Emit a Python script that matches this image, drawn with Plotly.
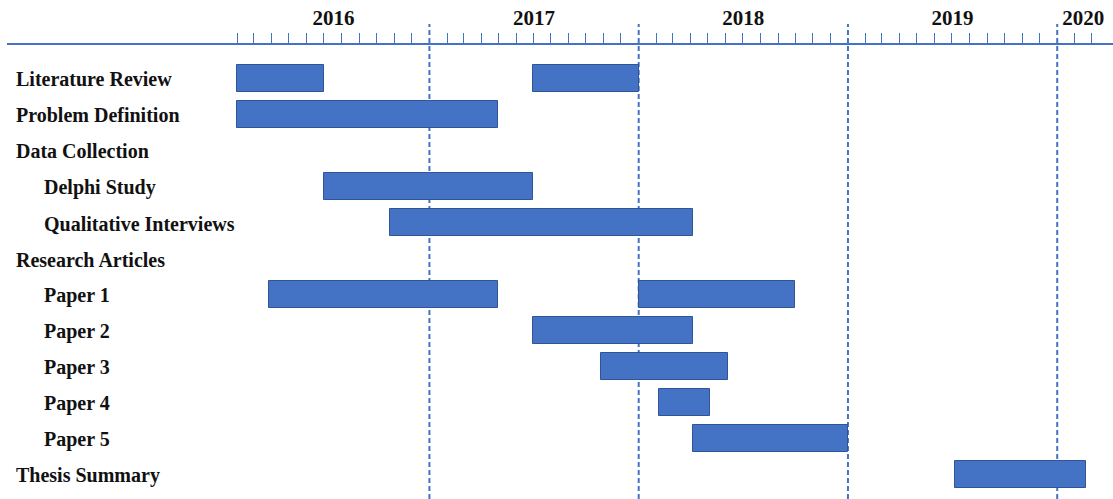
import pandas as pd
import plotly.graph_objects as go

# Rows of the schedule, top to bottom; level 1 rows are sub-items
tasks = ["Literature Review", "Problem Definition", "Data Collection", "Delphi Study",
         "Qualitative Interviews", "Research Articles", "Paper 1", "Paper 2", "Paper 3",
         "Paper 4", "Paper 5", "Thesis Summary"]
levels = [0, 0, 0, 1, 1, 0, 1, 1, 1, 1, 1, 0]

# Activity segments (a row can hold more than one)
seg_task = ["Literature Review", "Literature Review", "Problem Definition", "Delphi Study",
            "Qualitative Interviews", "Paper 1", "Paper 1", "Paper 2", "Paper 3",
            "Paper 4", "Paper 5", "Thesis Summary"]
seg_start = ["2016-02-01", "2017-07-01", "2016-02-01", "2016-07-01",
             "2016-10-25", "2016-03-28", "2018-01-01", "2017-07-01", "2017-10-28",
             "2018-02-06", "2018-04-06", "2019-07-06"]
seg_end = ["2016-07-01", "2018-01-01", "2017-05-01", "2017-07-01",
           "2018-04-05", "2017-05-01", "2018-10-01", "2018-04-05", "2018-06-05",
           "2018-05-05", "2019-01-01", "2020-02-21"]

# Timeline scale
years = ["2016", "2017", "2018", "2019", "2020"]
timeline_start = "2016-02-01"
timeline_end = "2020-04-01"
x_range = ["2014-12-26 05:00", "2020-04-07 07:00"]

BLUE = "#4472C4"
EDGE = "#2F5597"
FONT = "Liberation Serif"

starts = pd.to_datetime(seg_start)
ends = pd.to_datetime(seg_end)
durations_ms = [(e - s).total_seconds() * 1000 for s, e in zip(starts, ends)]

# Year labels sit in the middle of the visible part of each year
t0, t1 = pd.Timestamp(timeline_start), pd.Timestamp(timeline_end)
year_mids = []
for y in years:
    a = max(pd.Timestamp(f"{y}-01-01"), t0)
    b = min(pd.Timestamp(f"{int(y) + 1}-01-01"), t1)
    year_mids.append(a + (b - a) / 2)

# Month ticks; year boundaries get a dashed line instead
months = pd.date_range(t0, t1, freq="MS", inclusive="left")
month_ticks = [m for m in months if m.month != 1]
boundaries = [pd.Timestamp(f"{y}-01-01") for y in years if pd.Timestamp(f"{y}-01-01") > t0]

fig = go.Figure()
fig.add_trace(go.Bar(
    orientation="h",
    y=seg_task,
    base=[s.strftime("%Y-%m-%d") for s in starts],
    x=durations_ms,
    width=0.75,
    marker=dict(color=BLUE, line=dict(color=EDGE, width=1)),
    hoverinfo="skip",
))

for b in boundaries:
    fig.add_shape(type="line", xref="x", yref="paper",
                  x0=b, x1=b, y0=0, y1=1.046,
                  line=dict(color=BLUE, width=2, dash="5px,3px"), layer="below")

for name, lvl in zip(tasks, levels):
    fig.add_annotation(x=0, xref="paper", y=name, yref="y",
                       text=name, showarrow=False, xanchor="left",
                       xshift=7 + 28 * lvl, yshift=-1,
                       font=dict(family=FONT, size=20, color="#111111", weight="bold"))

fig.update_layout(
    width=1113, height=499,
    margin=dict(l=7, r=0, t=45, b=0),
    paper_bgcolor="white", plot_bgcolor="white",
    showlegend=False, bargap=0,
    xaxis=dict(
        type="date", side="top", range=x_range,
        showline=True, linecolor=BLUE, linewidth=1.5,
        showgrid=False, zeroline=False,
        tickmode="array", tickvals=year_mids, ticktext=years,
        ticks="outside", ticklen=10, tickcolor="rgba(0,0,0,0)",
        tickfont=dict(family=FONT, size=21, color="#111111", weight="bold"),
        minor=dict(tickmode="array", tickvals=month_ticks, ticks="outside",
                   ticklen=10, tickcolor=BLUE, tickwidth=1.4, showgrid=False),
    ),
    yaxis=dict(
        type="category", categoryorder="array", categoryarray=tasks,
        range=[11.68, -0.93], showticklabels=False,
        showgrid=False, zeroline=False, showline=False,
    ),
)

fig.write_html("out.html")
